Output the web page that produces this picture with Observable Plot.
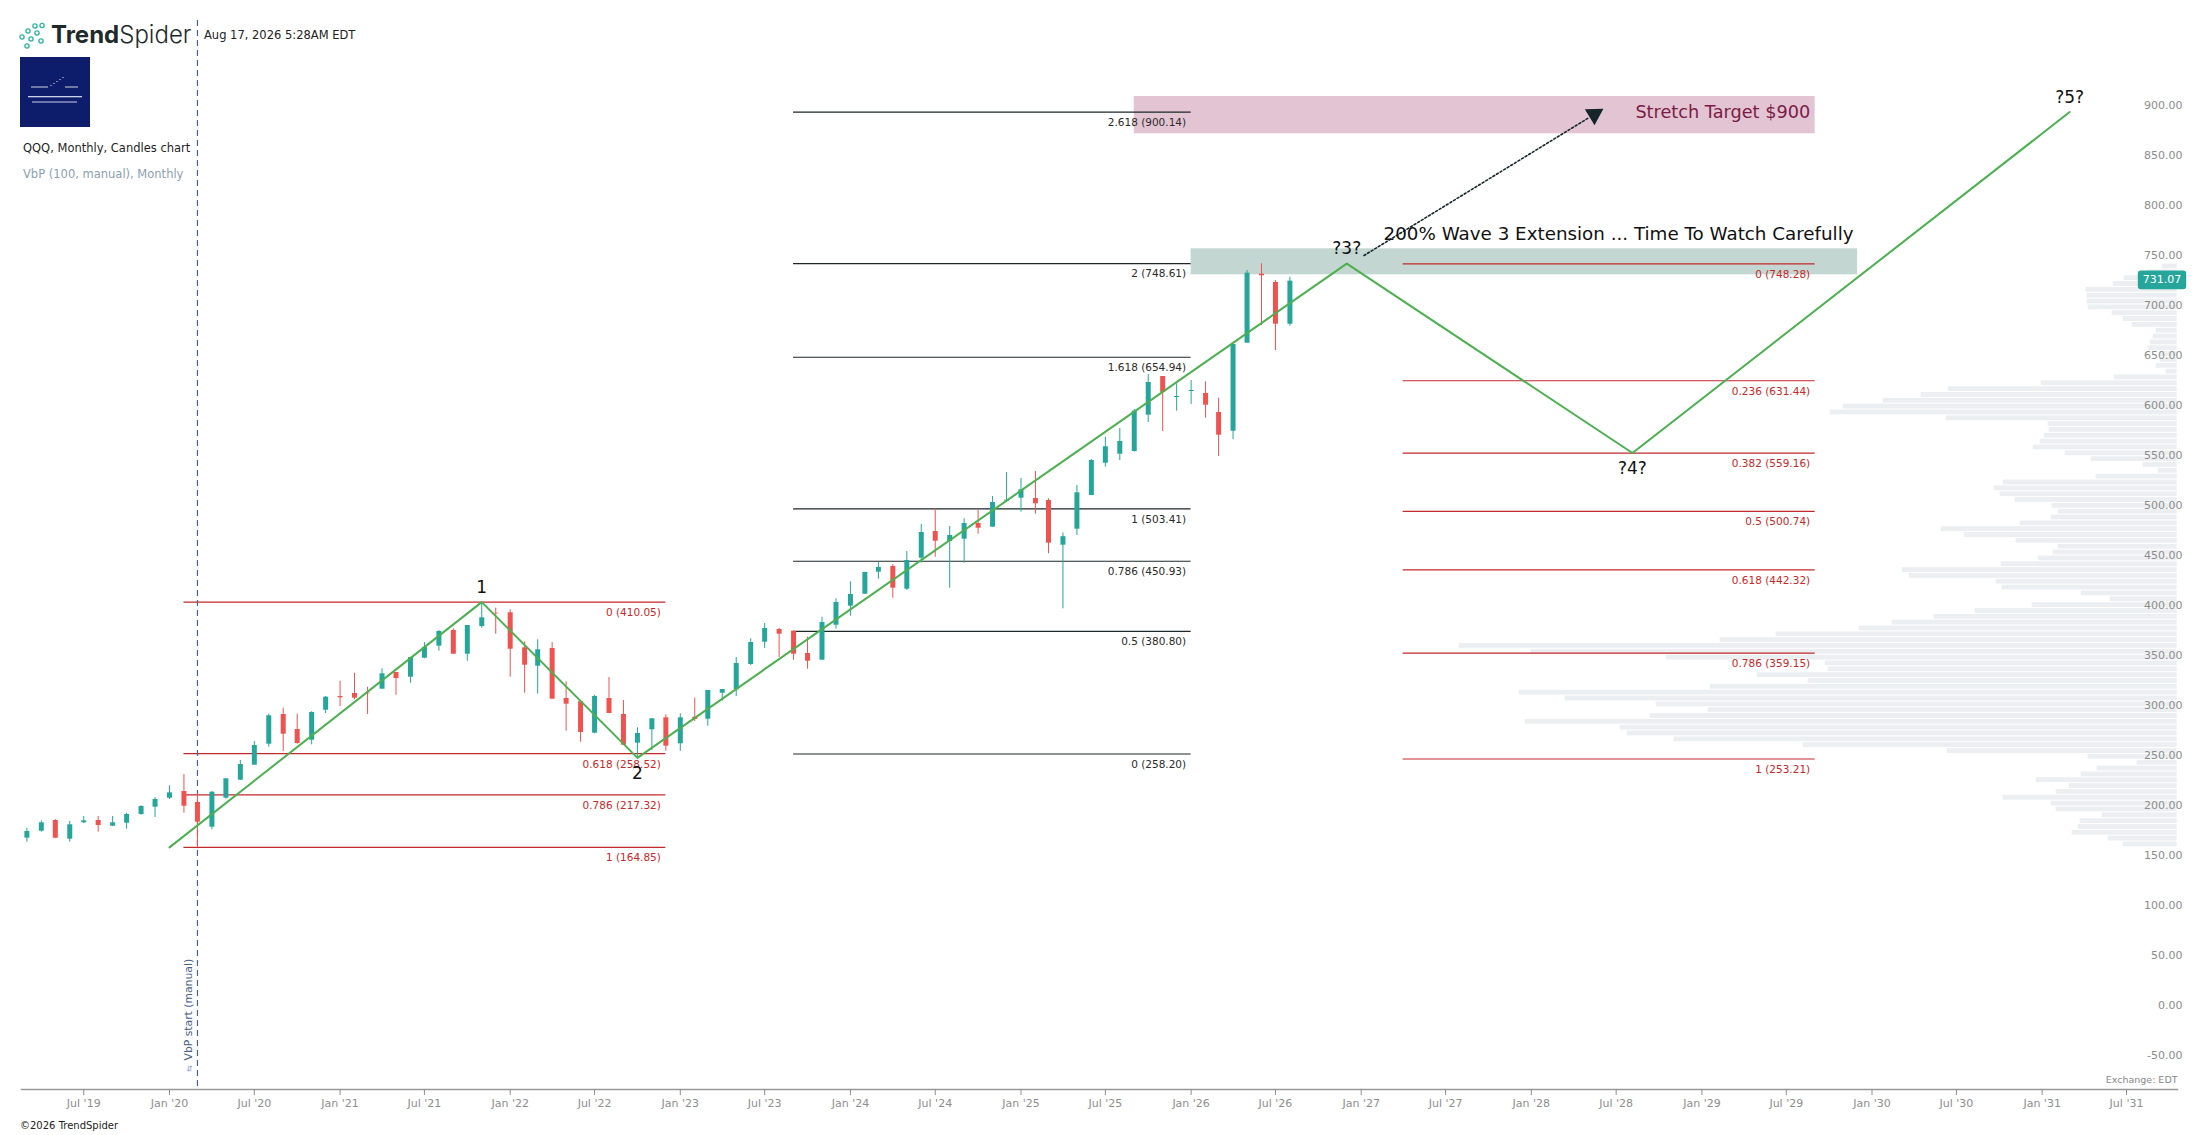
<!DOCTYPE html>
<html>
<head>
<meta charset="utf-8">
<script src="https://cdn.jsdelivr.net/npm/d3@7"></script>
<script src="https://cdn.jsdelivr.net/npm/@observablehq/plot@0.6"></script>
<style>
html,body{margin:0;padding:0;background:#fff;overflow:hidden;}
#wrap{position:relative;width:2207px;height:1135px;font-family:"DejaVu Sans",sans-serif;}
#wrap svg.layer{position:absolute;left:0;top:0;max-width:none;}
.abs{position:absolute;white-space:nowrap;}
</style>
</head>
<body>
<div id="wrap">
  <div id="vol" class="abs" style="left:0;top:0"></div>
  <div id="main" class="abs" style="left:0;top:0"></div>
  <div class="abs" style="left:19px;top:21px;height:30px;">
    <svg width="30" height="28" viewBox="0 0 30 28" style="position:absolute;left:0;top:1px">
      <g fill="none" stroke="#2bb3a0" stroke-width="1.3">
        <circle cx="16" cy="4" r="2.1"/><circle cx="23" cy="3.5" r="2.1"/>
        <circle cx="9" cy="9" r="2.1"/><circle cx="18" cy="11" r="2.1"/>
        <circle cx="3" cy="15" r="2.1"/><circle cx="12" cy="17" r="2.1"/>
        <circle cx="22" cy="19" r="2.1"/><circle cx="8" cy="24" r="2.1"/>
      </g>
    </svg>
    <div class="abs" style="left:32px;top:0px;font-family:Inter,sans-serif;font-size:24px;line-height:28px;color:#1e2a2a;"><span style="font-weight:700">Trend</span><span style="font-weight:300">Spider</span></div>
  </div>
  <div class="abs" style="left:204px;top:28px;font-size:11.5px;line-height:15px;color:#222">Aug 17, 2026 5:28AM EDT</div>
  <div class="abs" style="left:20px;top:57px;width:70px;height:70px;background:#0e1d6b">
    <svg width="70" height="70" viewBox="0 0 70 70">
      <g stroke="#fff" stroke-width="0.8">
        <line x1="11" y1="30" x2="28" y2="30"/><line x1="45" y1="30" x2="58" y2="30"/>
      </g>
      <g fill="#fff"><circle cx="31" cy="28.5" r="0.6"/><circle cx="34" cy="26.5" r="0.6"/><circle cx="37" cy="24.5" r="0.6"/><circle cx="40" cy="22.5" r="0.6"/><circle cx="43" cy="20.5" r="0.6"/></g>
      <g fill="#c9d0ea"><rect x="8" y="39" width="54" height="1.3"/><rect x="12" y="44.5" width="45" height="1"/></g>
    </svg>
  </div>
  <div class="abs" style="left:23px;top:140px;font-size:11.5px;line-height:16px;color:#1f1f1f">QQQ, Monthly, Candles chart</div>
  <div class="abs" style="left:23px;top:166px;font-size:11.5px;line-height:16px;color:#8ba0b2">VbP (100, manual), Monthly</div>
  <div class="abs" style="left:20px;top:1119px;font-size:10px;line-height:14px;color:#222">©2026 TrendSpider</div>
</div>
<script>
// ---------------- DATA ----------------
const months = [
  "2019-03","2019-04","2019-05","2019-06","2019-07","2019-08","2019-09","2019-10","2019-11","2019-12",
  "2020-01","2020-02","2020-03","2020-04","2020-05","2020-06","2020-07","2020-08","2020-09","2020-10","2020-11","2020-12",
  "2021-01","2021-02","2021-03","2021-04","2021-05","2021-06","2021-07","2021-08","2021-09","2021-10","2021-11","2021-12",
  "2022-01","2022-02","2022-03","2022-04","2022-05","2022-06","2022-07","2022-08","2022-09","2022-10","2022-11","2022-12",
  "2023-01","2023-02","2023-03","2023-04","2023-05","2023-06","2023-07","2023-08","2023-09","2023-10","2023-11","2023-12",
  "2024-01","2024-02","2024-03","2024-04","2024-05","2024-06","2024-07","2024-08","2024-09","2024-10","2024-11","2024-12",
  "2025-01","2025-02","2025-03","2025-04","2025-05","2025-06","2025-07","2025-08","2025-09","2025-10","2025-11","2025-12",
  "2026-01","2026-02","2026-03","2026-04","2026-05","2026-06","2026-07","2026-08"
];
const opens = [
  174,181,191.7,173,189.4,191.7,186,189,197.7,205,
  214,220.7,209.7,185,214,232,247,268,297.7,282.7,272,302,
  315.7,318.7,319,323,339.7,335,354,366,381.7,358,385.7,399,
  399.4,364.4,346,363.7,313.7,310.4,279,313.7,297.7,269,282.4,294.4,
  268.4,295,293,319,322.4,347.7,370,382.7,381,358.7,352,387,
  406,418,440,445.7,423,454,480.7,470.7,473,488.7,485,511,
  514,513.7,511.7,467,483,516.7,549,558,560.7,597,635.7,614.7,
  620.7,618.7,599.7,581,669,738,729.7,688
];
const highs = [
  184,191.4,192.5,190.7,195.7,195.7,195.7,199,206.4,214.7,
  226.4,237.7,218.4,220.7,233.4,251.7,270.7,298,304,298,300.5,315.7,
  331,339,325,343.4,339.7,355,369.7,381.7,383.4,386.7,410,404,
  402.4,370.4,372.4,369.7,330.4,310.4,317,334.7,311.7,284.4,293.4,297.4,
  298.4,314,321.7,322.7,354.7,373.4,388.7,383.7,381,375,395,413.4,
  430.4,440,449.7,447.7,460.7,487.7,503.7,485.7,493.4,501.7,515.7,539.7,
  533.7,540.7,513.4,479.2,526.7,552.7,575,583.7,602.7,637.7,635.7,628.4,
  631.7,630.4,614,667.7,741.7,748.4,731.7,735
];
const lows = [
  170,180,173.5,170,188.7,180,185.5,183,197,194.7,
  212.7,199,164.85,182.4,213,231.7,247,265,260.7,268,267.4,298.7,
  305.7,312.4,297.7,323,317,329,353.4,361,358,351,384,378,
  335,319,318,313,281,270,278.4,298.7,267,254.3,261.7,261,
  261,290.7,286,311,315.7,346.7,363.7,354.7,352,343,352,383,
  396,418,433,414,421.7,449,455,424,449,478,485,510.5,
  500,498,458.4,403.4,476.7,516.7,545,551.7,560,589.7,580.7,601,
  607.7,594,555.7,572.7,669,686.7,661.7,686
];
const closes = [
  180.7,189.4,174,187.4,191.4,186.7,189.4,197.7,205.7,212.7,
  219.4,206,190,220,233.4,247.7,266.7,296.4,278,268.7,299.7,315,
  314.4,314,318.4,338.4,333.7,354.7,364.7,380.7,358,386.7,394.4,398.4,
  363,347,362.4,313,308,279.7,315.7,298.7,267,278.7,293.4,266,
  294.4,292.7,321.7,322.7,348.7,369.7,383.7,378,358,351,389.7,409.7,
  417.7,439.7,444.7,424,451.7,479.7,471,476.7,488.7,484,509.7,512,
  522.4,508.4,469,475.5,519.4,551.7,565.4,570.7,601,629.7,619.7,615.7,
  621.7,607,577,667.7,739,736.4,688,731.07
];
const lastPrice = 731.07;

// Elliott-wave zigzag
const waveDates  = ["2020-01-01","2021-11-01","2022-10-01","2026-12-01","2028-08-05","2031-03-01"];
const waveValues = [164.85, 410.05, 254.3, 748.61, 559.16, 900.14];
const waveLabels = ["", "1", "2", "?3?", "?4?", "?5?"];
const wavePlace  = ["", "above", "below", "above", "below", "above"];

// Fibonacci sets
const fibA_ratios = ["0","0.618","0.786","1"];
const fibA_values = [410.05, 258.52, 217.32, 164.85];
const fibA_span = ["2020-02-01","2022-12-01"];
const fibB_ratios = ["2.618","2","1.618","1","0.786","0.5","0"];
const fibB_values = [900.14, 748.61, 654.94, 503.41, 450.93, 380.80, 258.20];
const fibB_span = ["2023-09-01","2026-01-01"];
const fibC_ratios = ["0","0.236","0.382","0.5","0.618","0.786","1"];
const fibC_values = [748.28, 631.44, 559.16, 500.74, 442.32, 359.15, 253.21];
const fibC_span = ["2027-04-01","2029-09-01"];

// Target zones
const zoneStarts = ["2025-09-01","2026-01-01"];
const zoneEnds   = ["2029-09-01","2029-12-01"];
const zoneLows   = [878.4, 737.4];
const zoneHighs  = [915.7, 763.4];
const zoneFills  = ["#e3c4d3", "#c4d6d1"];

// Annotations
const noteTexts  = ["Stretch Target $900", "200% Wave 3 Extension ... Time To Watch Carefully"];
const noteDates  = ["2029-09-01", "2029-12-01"];
const noteValues = [900, 778.4];
const arrowDates  = ["2027-01-07", "2028-05-01"];
const arrowValues = [756.7, 893.8];
const arrowHeadDate = "2028-05-15";
const arrowHeadValue = 897.8;

const vbpStart = "2020-03-01";

// Volume by price (100 rows, top row first), relative volume
const vbpTopDown = [
  15, 30, 53, 64, 91, 90, 90, 89, 65, 54,
  45, 21, 24, 27, 29, 17, 17, 21, 11, 63,
  136, 229, 256, 294, 334, 347, 231, 129, 128, 133,
  137, 144, 112, 86, 34, 19, 81, 174, 183, 177,
  162, 125, 119, 126, 157, 236, 213, 161, 119, 124,
  139, 176, 275, 268, 181, 175, 96, 67, 145, 202,
  243, 285, 318, 401, 457, 718, 646, 511, 352, 349,
  420, 369, 467, 658, 612, 521, 469, 527, 652, 557,
  550, 503, 374, 230, 89, 40, 80, 96, 141, 108,
  121, 174, 126, 121, 75, 97, 99, 105, 69, 54
];
const vbpHigh = 748.61, vbpLow = 164.85;

const xTickMonths = ["2019-07","2020-01","2020-07","2021-01","2021-07","2022-01","2022-07","2023-01","2023-07",
  "2024-01","2024-07","2025-01","2025-07","2026-01","2026-07","2027-01","2027-07","2028-01","2028-07",
  "2029-01","2029-07","2030-01","2030-07","2031-01","2031-07"];
const yTicks = [-50,0,50,100,150,200,250,300,350,400,450,500,550,600,650,700,750,800,850,900];

// ---------------- BUILD ----------------
const UP = "#26a69a", DOWN = "#ef5350";
const P = s => d3.utcParse("%Y-%m-%d")(s.length === 7 ? s + "-01" : s);

const candles = months.map((m, i) => ({
  date: P(m), open: opens[i], high: highs[i], low: lows[i], close: closes[i],
  color: closes[i] >= opens[i] ? UP : DOWN
}));
const waves = waveDates.map((d, i) => ({date: P(d), value: waveValues[i], label: waveLabels[i], place: wavePlace[i]}));
function fibRows(ratios, values, span, line, text) {
  return ratios.map((r, i) => ({x1: P(span[0]), x2: P(span[1]), value: values[i],
    label: `${r} (${values[i].toFixed(2)})`, line, text}));
}
const fibs = [
  ...fibRows(fibA_ratios, fibA_values, fibA_span, "#c3282d", "#c62828"),
  ...fibRows(fibB_ratios, fibB_values, fibB_span, "#1c2828", "#2a2a2a"),
  ...fibRows(fibC_ratios, fibC_values, fibC_span, "#c3282d", "#c62828")
];
const zones = zoneStarts.map((s, i) => ({x1: P(s), x2: P(zoneEnds[i]), lo: zoneLows[i], hi: zoneHighs[i], fill: zoneFills[i]}));
const notes = noteTexts.map((t, i) => ({text: t, date: P(noteDates[i]), value: noteValues[i]}));
const arrow = arrowDates.map((d, i) => ({date: P(d), value: arrowValues[i]}));
const step = (vbpHigh - vbpLow) / vbpTopDown.length;
const vbp = vbpTopDown.map((v, i) => ({hi: vbpHigh - i * step, lo: vbpHigh - (i + 1) * step, vol: v}));

const W = 2207, H = 1135;
const xScale = {type: "utc", domain: [P("2020-01-01"), P("2031-07-01")], range: [169, 2126]};
const yScale = {type: "linear", domain: [0, 900], range: [1011.7, 111.7]};

const roundRect = {draw(ctx) {
  const w = 24.2, h = 9.4, r = 3;
  ctx.moveTo(-w + r, -h); ctx.lineTo(w - r, -h); ctx.arcTo(w, -h, w, -h + r, r);
  ctx.lineTo(w, h - r); ctx.arcTo(w, h, w - r, h, r);
  ctx.lineTo(-w + r, h); ctx.arcTo(-w, h, -w, h - r, r);
  ctx.lineTo(-w, -h + r); ctx.arcTo(-w, -h, -w + r, -h, r); ctx.closePath();
}};

// Volume-by-price layer (beneath)
const volChart = Plot.plot({
  width: W, height: H, margin: 0,
  style: {background: "transparent", maxWidth: "none"},
  x: {domain: [0, 718], range: [2176.7, 1458.7], axis: null},
  y: {...yScale, axis: null},
  marks: [
    Plot.rect(vbp, {x1: () => 0, x2: "vol", y1: "lo", y2: "hi", insetTop: 0.5, insetBottom: 0.5, fill: "#eceff1"})
  ]
});
volChart.classList.add("layer");
document.getElementById("vol").appendChild(volChart);

// Main chart layer
const chart = Plot.plot({
  width: W, height: H,
  marginTop: 20, marginBottom: 46, marginLeft: 21, marginRight: 30,
  style: {background: "transparent", fontFamily: "DejaVu Sans, sans-serif", maxWidth: "none"},
  x: {...xScale},
  y: {...yScale, axis: null},
  color: {type: "identity"},
  marks: [
    Plot.rect(zones, {x1: "x1", x2: "x2", y1: "lo", y2: "hi", fill: "fill"}),
    Plot.ruleY(fibs, {y: "value", x1: "x1", x2: "x2", stroke: "line", strokeWidth: 1.2}),
    Plot.text(fibs, {x: "x2", y: "value", text: "label", textAnchor: "end", dx: -5, dy: 10.5, fill: "text", fontSize: 10.5}),
    Plot.ruleX([P(vbpStart)], {x: d => d, stroke: "#4a6388", strokeWidth: 1.2, strokeDasharray: "6,4"}),
    Plot.text([P(vbpStart)], {x: d => d, frameAnchor: "bottom", text: () => "VbP start (manual)", rotate: -90,
      textAnchor: "start", lineAnchor: "middle", dx: -8.5, dy: -29, fontSize: 10.8, fill: "#48617f"}),
    Plot.text([P(vbpStart)], {x: d => d, frameAnchor: "bottom", text: () => "⇆", rotate: -90,
      textAnchor: "middle", lineAnchor: "middle", dx: -8.5, dy: -21, fontSize: 8, fill: "#8ea3b6"}),
    Plot.ruleX(candles, {x: "date", y1: "low", y2: "high", stroke: "color", strokeWidth: 1}),
    Plot.ruleX(candles, {x: "date", y1: "open", y2: "close", stroke: "color", strokeWidth: 5}),
    Plot.line(waves, {x: "date", y: "value", stroke: "#4caf50", strokeWidth: 2}),
    Plot.text(waves.filter(d => d.place === "above"), {x: "date", y: "value", text: "label", dy: -15, fontSize: 17, fill: "#111"}),
    Plot.text(waves.filter(d => d.place === "below"), {x: "date", y: "value", text: "label", dy: 16, fontSize: 17, fill: "#111"}),
    Plot.line(arrow, {x: "date", y: "value", stroke: "#15262a", strokeWidth: 1.6, strokeDasharray: "2,2.2"}),
    Plot.dot([{date: P(arrowHeadDate), value: arrowHeadValue}], {x: "date", y: "value", symbol: "triangle", r: 6.9, rotate: 58.6, fill: "#15262a", stroke: "none"}),
    Plot.text(notes.slice(0, 1), {x: "date", y: "value", text: "text", textAnchor: "end", dx: -5, fontSize: 17.7, fill: "#7a1c44"}),
    Plot.text(notes.slice(1), {x: "date", y: "value", text: "text", textAnchor: "end", dx: -4, fontSize: 18.3, fill: "#111"}),
    Plot.frame({anchor: "bottom", stroke: "#999", strokeWidth: 1.5}),
    Plot.axisX({ticks: xTickMonths.map(P), tickFormat: d3.utcFormat("%b '%y"), anchor: "bottom", label: null,
      tickSize: 6, tickPadding: 4, fontSize: 11, color: "#8e8e8e"}),
    Plot.text(yTicks, {y: d => d, text: d => d.toFixed(2), frameAnchor: "right", textAnchor: "end", dx: 5, dy: -6.5, fontSize: 11, fill: "#8c8c8c"}),
    Plot.dot([lastPrice], {y: d => d, frameAnchor: "right", dx: -15.5, dy: -1.3, symbol: roundRect, r: 1, fill: "#26a69a", stroke: "none"}),
    Plot.text([lastPrice], {y: d => d, frameAnchor: "right", textAnchor: "middle", dx: -15.5, dy: -1.3, text: d => d.toFixed(2), fontSize: 11, fill: "#fff"}),
    Plot.text(["Exchange: EDT"], {frameAnchor: "bottom-right", text: d => d, textAnchor: "end", dy: -6.5, fontSize: 9.5, fill: "#888"})
  ]
});
chart.classList.add("layer");
document.getElementById("main").appendChild(chart);
</script>
</body>
</html>
